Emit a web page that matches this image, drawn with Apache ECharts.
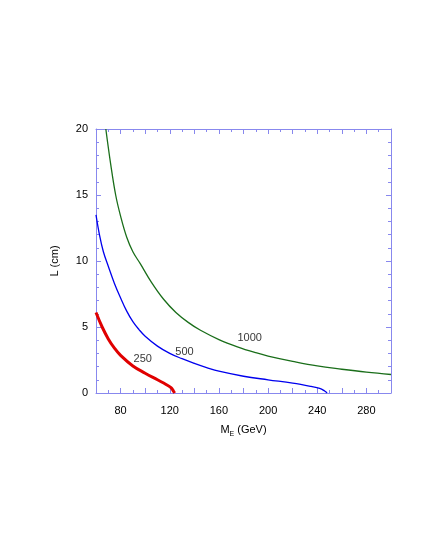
<!DOCTYPE html><html><head><script src="https://cdn.jsdelivr.net/npm/echarts@6/dist/echarts.min.js"></script></head>
<body style="margin:0;background:#fff"><div id="c" style="width:428px;height:554px"></div>
<script>
const s1000=[[68,20],[72,17.3],[76,15],[80,13.4],[85,11.8],[90,10.7],[96,9.8],[105,8.4],[115,7.1],[125,6.1],[135,5.35],[145,4.75],[160,4.05],[175,3.5],[190,3.05],[200,2.8],[220,2.4],[240,2.05],[260,1.8],[280,1.58],[300,1.4]];
const s500=[[60,13.5],[63,11.9],[66,10.7],[70,9.6],[75,8.3],[80,7.2],[85,6.2],[90,5.4],[95,4.8],[100,4.3],[110,3.55],[120,3.0],[130,2.6],[140,2.25],[150,1.93],[160,1.65],[180,1.27],[200,1.0],[220,0.75],[235,0.5],[242,0.35],[246,0.15],[248,0]];
const s250=[[60,6.1],[65,5],[70,4.1],[75,3.4],[80,2.85],[90,2.05],[100,1.5],[110,1.0],[117,0.65],[121,0.4],[123,0.15],[124,0]];
const labels=[[185,4.2,'1000'],[132,3.1,'500'],[98,2.6,'250']];
const C='#8888ee';
const ax={show:true,onZero:false,lineStyle:{color:C}};
const tk={show:true,inside:true,length:5,lineStyle:{color:C}};
const lbl={color:'#000',fontSize:11,fontFamily:'Liberation Sans'};
const xm={show:true,splitNumber:2,length:3,lineStyle:{color:C}};
const ym={show:true,splitNumber:5,length:3,lineStyle:{color:C}};
const chart=echarts.init(document.getElementById('c'));
chart.setOption({animation:false,
grid:{left:96,right:37,top:129,bottom:161},
xAxis:[{type:'value',min:60,max:300,interval:20,axisLine:ax,axisTick:tk,minorTick:xm,splitLine:{show:false},
 axisLabel:Object.assign({},lbl,{formatter:v=>v%40===0?v:''}),
 name:'{a|M}{b|E}{a| (GeV)}',nameLocation:'middle',nameGap:22,nameTextStyle:{color:'#000',rich:{a:{fontSize:11,color:'#000',fontFamily:'Liberation Sans'},b:{fontSize:7,color:'#000',fontFamily:'Liberation Sans',verticalAlign:'bottom',padding:[6,0,0,0]}}}},
 {type:'value',position:'top',min:60,max:300,interval:20,axisLine:ax,axisTick:tk,minorTick:xm,axisLabel:{show:false},splitLine:{show:false}}],
yAxis:[{type:'value',min:0,max:20,interval:5,axisLine:ax,axisTick:tk,minorTick:ym,splitLine:{show:false},axisLabel:lbl,
 name:'L (cm)',nameLocation:'middle',nameGap:26,nameTextStyle:{fontSize:11,fontFamily:'Liberation Sans',color:'#000'}},
 {type:'value',position:'right',min:0,max:20,interval:5,axisLine:ax,axisTick:tk,minorTick:ym,axisLabel:{show:false},splitLine:{show:false}}],
series:[
{type:'line',data:s1000,smooth:0.4,showSymbol:false,lineStyle:{color:'#1a6e1a',width:1.3}},
{type:'line',data:s500,smooth:0.4,showSymbol:false,lineStyle:{color:'#0000ee',width:1.3}},
{type:'line',data:s250,smooth:0.4,showSymbol:false,lineStyle:{color:'#e00000',width:3}},
{type:'scatter',data:labels.map(l=>[l[0],l[1],l[2]]),symbolSize:0,label:{show:true,position:'inside',formatter:p=>p.data[2],color:'#000',fontSize:11,fontFamily:'Liberation Sans'}}
]});
</script></body></html>
